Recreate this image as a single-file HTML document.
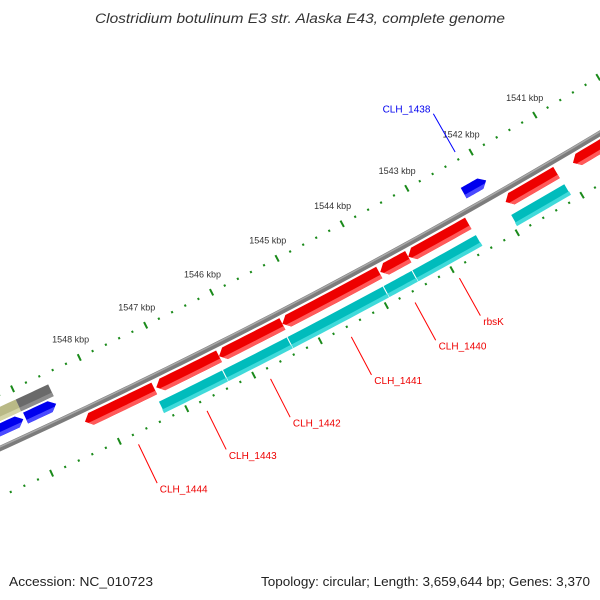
<!DOCTYPE html>
<html><head><meta charset="utf-8"><style>
html,body{margin:0;padding:0;background:#fff;}
svg{display:block;font-family:"Liberation Sans","DejaVu Sans",sans-serif;}
</style></head><body>
<svg id="map" width="600" height="600" viewBox="0 0 600 600" xmlns="http://www.w3.org/2000/svg">
<rect width="600" height="600" fill="#fff"/>
<text x="300" y="23" text-anchor="middle" font-size="13.5" font-style="italic" fill="#333" textLength="410" lengthAdjust="spacingAndGlyphs">Clostridium botulinum E3 str. Alaska E43, complete genome</text>
<g id="ticks"></g>
<g id="backbone"></g>
<g id="feats"></g>
<g id="labels"></g>
<text x="9" y="586" font-size="13" fill="#222" textLength="144" lengthAdjust="spacingAndGlyphs">Accession: NC_010723</text>
<text x="590" y="586" text-anchor="end" font-size="13" fill="#222" textLength="329" lengthAdjust="spacingAndGlyphs">Topology: circular; Length: 3,659,644 bp; Genes: 3,370</text>
</svg>
<script>
// ---- data ----
const redStarts=[1540000,1541141,1542508,1543430,1543873,1545345,1546300,1547271];
const redEnds=[1540885,1541931,1543430,1543858,1545345,1546300,1547241,1548303];
const redNames=["","","rbsK","CLH_1440","CLH_1441","CLH_1442","CLH_1443","CLH_1444"];
const cyanStarts=[1541124,1542490,1543476,1543916,1545372,1546343];
const cyanEnds=[1541959,1543476,1543916,1545372,1546343,1547299];
const blueStarts=[1542013,1548551,1549040];
const blueEnds=[1542362,1549006,1550300];
const blueNames=["CLH_1438","",""];
const khakiStarts=[1549022];
const khakiEnds=[1550300];
const grayStarts=[1548537];
const grayEnds=[1549022];
const tickKbp=[1541,1542,1543,1544,1545,1546,1547,1548];

// ---- geometry ----
const CX=-2485.5, CY=-5012.5;
function phi(bp){return (59.50+(bp-1541000)*0.00071)*Math.PI/180;}
function P(bp,r){const a=phi(bp);return [CX+r*Math.cos(a),CY+r*Math.sin(a)];}
const NS="http://www.w3.org/2000/svg";
function mk(tag,attrs,parent){const e=document.createElementNS(NS,tag);for(const k in attrs)e.setAttribute(k,attrs[k]);parent.appendChild(e);return e;}
function f(p){return p[0].toFixed(2)+","+p[1].toFixed(2);}

// shape: dir = +1 arrow tip at high bp, -1 tip at low bp, 0 box
function shape(lo,hi,r1,r2,dir,rc1,rc2){
  const ah=90, rm=(r1+r2)/2, hh=(r2-r1)/2;
  function edge(r,side){ // side: +1 high end, -1 low end
    if(dir===side){return side>0?hi-ah*Math.abs(r-rm)/hh:lo+ah*Math.abs(r-rm)/hh;}
    return side>0?hi:lo;
  }
  const pts=[];const n=10;
  const a=edge(rc1,-1),b=edge(rc1,1);
  for(let i=0;i<=n;i++)pts.push(P(a+(b-a)*i/n,rc1));
  if(dir===1&&rc1<rm&&rc2>rm)pts.push(P(hi,rm));
  const c=edge(rc2,1),d=edge(rc2,-1);
  for(let i=0;i<=n;i++)pts.push(P(c+(d-c)*i/n,rc2));
  if(dir===-1&&rc1<rm&&rc2>rm)pts.push(P(lo,rm));
  return pts.map(f).join(" ");
}
const feats=document.getElementById("feats");
function drawFeat(lo,hi,r1,r2,dir,col,light,name,stroke){
  const g=mk("g",{},feats);
  
  
  const p=mk("polygon",{points:shape(lo,hi,r1,r2,dir,r1,r2),fill:col},g);
  if(stroke){p.setAttribute("stroke","#fff");p.setAttribute("stroke-width","1");}
  mk("polygon",{points:shape(lo,hi,r1,r2,dir,r2-4,r2),fill:light},g);
}

// ---- ticks ----
const tg=document.getElementById("ticks");
for(let bp=1539000;bp<=1550000;bp+=200){
  const major=bp%1000===0;
  [5951,6044].forEach(r=>{
    const L=major?3.6:1.1;
    const a=P(bp,r-L),b=P(bp,r+L);
    const t=mk("line",{x1:a[0],y1:a[1],x2:b[0],y2:b[1],stroke:"#1a8a1a","stroke-width":2},tg);
    
    
  });
}
tickKbp.forEach(k=>{
  const p=P(k*1000,5931);
  const t=mk("text",{x:p[0],y:p[1]+3,"text-anchor":"middle","font-size":"9",fill:"#333"},tg);
  t.textContent=k+" kbp";
  
  
});

// ---- backbone ----
const bb=document.getElementById("backbone");
let d="";for(let i=0;i<=60;i++){const p=P(1550600-i*200,6000);d+=(i?"L":"M")+f(p);}
mk("path",{d:d,fill:"none",stroke:"#7c7c7c","stroke-width":5.5},bb);
let d2="";for(let i=0;i<=60;i++){const p=P(1550600-i*200,5998.5);d2+=(i?"L":"M")+f(p);}
mk("path",{d:d2,fill:"none",stroke:"#a8a8a8","stroke-width":1.5},bb);

// ---- features ----
khakiStarts.forEach((s,i)=>drawFeat(s,khakiEnds[i],5962,5975,0,"#b9b986","#d4d4a8","khaki-feature"));
grayStarts.forEach((s,i)=>drawFeat(s,grayEnds[i],5962,5975,0,"#6a6a6a","#8c8c8c","gray-feature"));
blueStarts.forEach((s,i)=>drawFeat(s,blueEnds[i],5977,5989,-1,"#0000ee","#4a4aff","blue-gene"));
redStarts.forEach((s,i)=>drawFeat(s,redEnds[i],6005,6018,1,"#ee0000","#ff5a5a","red-gene"));
cyanStarts.forEach((s,i)=>drawFeat(s,cyanEnds[i],6025,6038,0,"#00bcbc","#40dada","cyan-feature",true));

// ---- labels ----
const lg=document.getElementById("labels");
redNames.forEach((n,i)=>{
  if(!n)return;
  const m=(redStarts[i]+redEnds[i])/2;
  const a=P(m,6055),b=P(m,6098),t=P(m,6104);
  const l=mk("line",{x1:a[0],y1:a[1],x2:b[0],y2:b[1],stroke:"#ff0000","stroke-width":1},lg);
  
  
  const tx=mk("text",{x:t[0],y:t[1]+4,"font-size":"10",fill:"#ee0000"},lg);
  tx.textContent=n;
  
  
});
blueNames.forEach((n,i)=>{
  if(!n)return;
  const m=(blueStarts[i]+blueEnds[i])/2;
  const a=P(m,5943),b=P(m,5899),t=P(m,5893);
  const l=mk("line",{x1:a[0],y1:a[1],x2:b[0],y2:b[1],stroke:"#0000ff","stroke-width":1},lg);
  
  
  const tx=mk("text",{x:t[0],y:t[1]+4,"text-anchor":"end","font-size":"10",fill:"#0000ee"},lg);
  tx.textContent=n;
  
  
});
</script>
</body></html>
